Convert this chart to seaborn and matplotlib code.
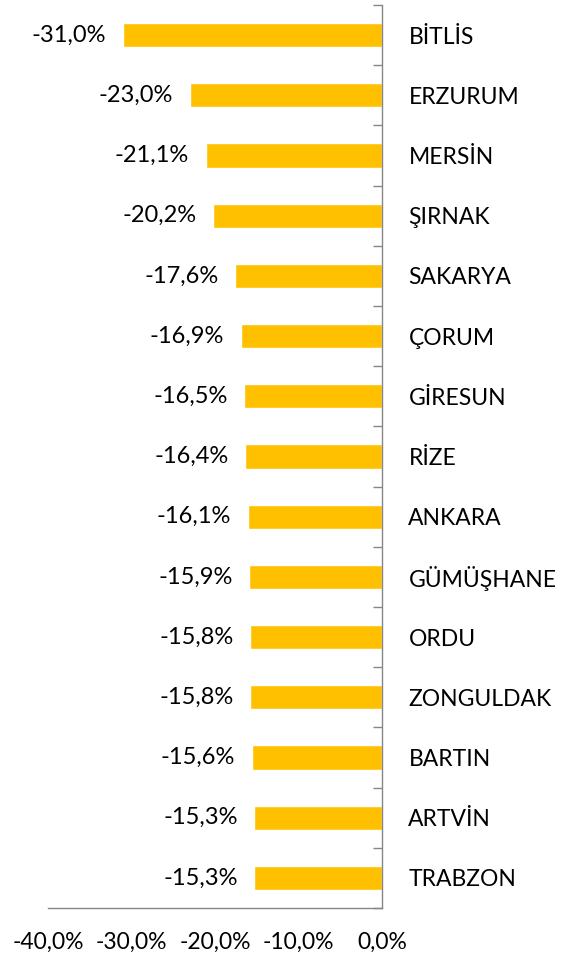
import matplotlib
matplotlib.use("Agg")
import matplotlib.pyplot as plt
import seaborn as sns
import pandas as pd
from matplotlib.ticker import FixedLocator, FuncFormatter

provinces = ["BİTLİS", "ERZURUM", "MERSİN", "ŞIRNAK", "SAKARYA", "ÇORUM", "GİRESUN",
             "RİZE", "ANKARA", "GÜMÜŞHANE", "ORDU", "ZONGULDAK", "BARTIN", "ARTVİN", "TRABZON"]
values = [-31.0, -23.0, -21.1, -20.2, -17.6, -16.9, -16.5, -16.4, -16.1, -15.9,
          -15.8, -15.8, -15.6, -15.3, -15.3]
x_ticks = [-40, -30, -20, -10, 0]

sns.set_theme(style="white")
plt.rcParams['font.family'] = ['Lato', 'DejaVu Sans']

df = pd.DataFrame({"il": provinces, "deger": values})

fig = plt.figure(figsize=(5.64, 9.61), dpi=100)
ax = fig.add_axes([48/564, 53/961, (382-48)/564, (908-5)/961])

sns.barplot(data=df, x="deger", y="il", orient="h", color="#FFC000",
            width=0.4, saturation=1, ax=ax)

ax.set_xlim(-40, 0)
ax.set_ylim(len(provinces) - 0.5, -0.5)
ax.set_xlabel("")
ax.set_ylabel("")

fmt = lambda v: f"{v:.1f}".replace(".", ",") + "%"
ax.xaxis.set_major_locator(FixedLocator(x_ticks))
ax.xaxis.set_major_formatter(FuncFormatter(lambda v, p: fmt(v)))
ax.tick_params(axis="x", which="major", direction="out", length=6, width=1,
               color="#868686", labelsize=16.5, pad=11, labelcolor="black")

ax.yaxis.tick_right()
ax.yaxis.set_minor_locator(FixedLocator([i - 0.5 for i in range(len(provinces) + 1)]))
ax.tick_params(axis="y", which="major", length=0, pad=19, labelsize=16.5, labelcolor="black")
ax.tick_params(axis="y", which="minor", direction="in", length=6.5, width=1, color="#868686",
               right=True, left=False)

for s in ["top", "left"]:
    ax.spines[s].set_visible(False)
for s in ["right", "bottom"]:
    ax.spines[s].set_visible(True)
    ax.spines[s].set_color("#868686")
    ax.spines[s].set_linewidth(1)

ax.bar_label(ax.containers[0], labels=[fmt(v) for v in values], padding=12,
             fontsize=17, color="black")

fig.savefig("out.png", dpi=100)
